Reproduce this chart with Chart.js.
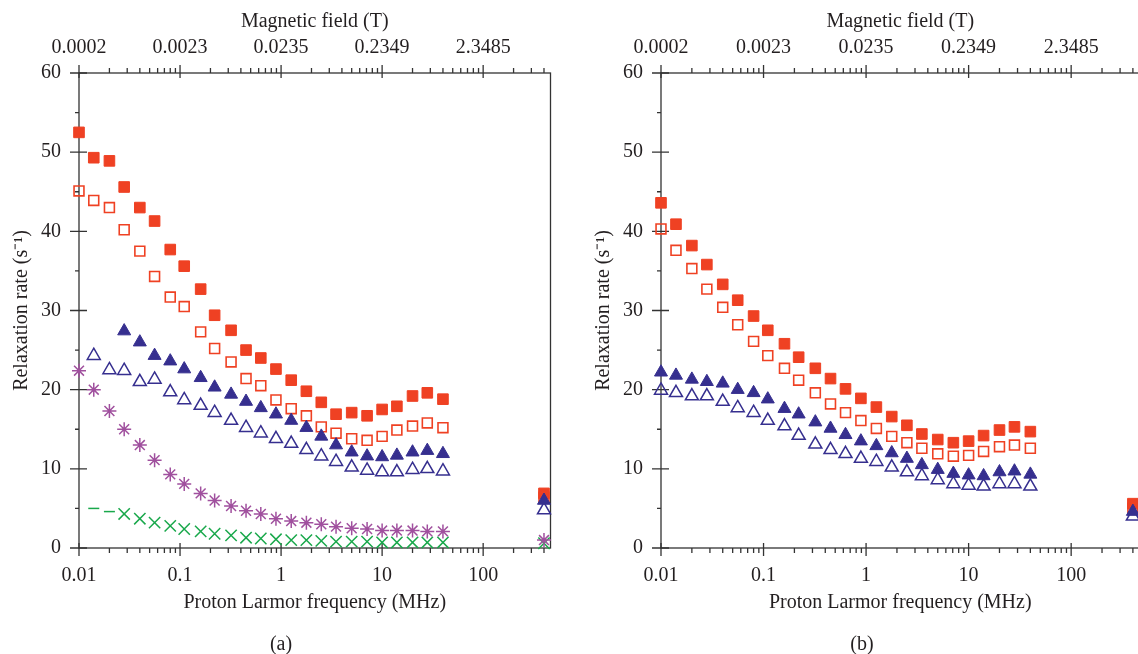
<!DOCTYPE html>
<html>
<head>
<meta charset="utf-8">
<script src="https://cdn.jsdelivr.net/npm/chart.js@4/dist/chart.umd.min.js"></script>
<style>
  html, body { margin: 0; padding: 0; background: #fff; width: 1138px; height: 654px; overflow: hidden; }
  .panel { position: absolute; top: 0; }
  .cap { position: absolute; font: 20px "Liberation Serif", serif; color: #231f20; transform: translateX(-50%); }
</style>
</head>
<body>
<div class="panel" style="left:0"><canvas id="chartA" width="560" height="654"></canvas></div>
<div class="panel" style="left:582px"><canvas id="chartB" width="570" height="654"></canvas></div>
<div class="cap" style="left:281px;top:632px">(a)</div>
<div class="cap" style="left:862px;top:632px">(b)</div>
<script>
// proton Larmor frequencies (MHz), last one is the 400 MHz point
const freq = [0.01, 0.014, 0.02, 0.028, 0.04, 0.056, 0.08, 0.11, 0.16, 0.22, 0.32, 0.45, 0.63,
  0.89, 1.26, 1.78, 2.5, 3.5, 5, 7.1, 10, 14, 20, 28, 40, 400];

const decadeTicks = [0.01, 0.1, 1, 10, 100];
const freqLabels = ['0.01', '0.1', '1', '10', '100'];
const fieldLabels = ['0.0002', '0.0023', '0.0235', '0.2349', '2.3485'];
const rateTicks = [0, 10, 20, 30, 40, 50, 60];

// panel (a)
const aFilledSq = [52.5, 49.3, 48.9, 45.6, 43.0, 41.3, 37.7, 35.6, 32.7, 29.4, 27.5, 25.0, 24.0,
  22.6, 21.2, 19.8, 18.4, 16.9, 17.1, 16.7, 17.5, 17.9, 19.2, 19.6, 18.8, 6.9];
const aOpenSq = [45.1, 43.9, 43.0, 40.2, 37.5, 34.3, 31.7, 30.5, 27.3, 25.2, 23.5, 21.4, 20.5,
  18.7, 17.6, 16.7, 15.3, 14.5, 13.8, 13.6, 14.1, 14.9, 15.4, 15.8, 15.2, 6.4];
const aFilledTri = [null, null, null, 27.4, 26.0, 24.3, 23.6, 22.6, 21.5, 20.3, 19.4, 18.5, 17.7,
  16.9, 16.1, 15.2, 14.1, 13.0, 12.1, 11.6, 11.5, 11.7, 12.1, 12.3, 11.9, 6.0];
const aOpenTri = [null, 24.3, 22.5, 22.4, 21.0, 21.3, 19.7, 18.7, 18.0, 17.1, 16.1, 15.2, 14.5,
  13.8, 13.2, 12.4, 11.6, 10.9, 10.2, 9.8, 9.6, 9.6, 9.9, 10.0, 9.7, 4.8];
const aStar = [22.4, 20.0, 17.3, 15.0, 13.0, 11.1, 9.3, 8.1, 6.9, 6.0, 5.3, 4.7, 4.3,
  3.7, 3.4, 3.2, 3.0, 2.7, 2.5, 2.4, 2.2, 2.2, 2.2, 2.1, 2.1, 1.0];
const aCross = [null, 5.0, 4.6, 4.3, 3.7, 3.2, 2.8, 2.4, 2.1, 1.8, 1.6, 1.3, 1.2,
  1.1, 1.0, 1.0, 0.9, 0.8, 0.8, 0.8, 0.7, 0.7, 0.7, 0.7, 0.7, 0.6];

// panel (b)
const bFilledSq = [43.6, 40.9, 38.2, 35.8, 33.3, 31.3, 29.3, 27.5, 25.8, 24.1, 22.7, 21.4, 20.1,
  18.9, 17.8, 16.6, 15.5, 14.4, 13.7, 13.3, 13.5, 14.2, 14.9, 15.3, 14.7, 5.6];
const bOpenSq = [40.3, 37.6, 35.3, 32.7, 30.4, 28.2, 26.1, 24.3, 22.7, 21.2, 19.6, 18.2, 17.1,
  16.1, 15.1, 14.1, 13.3, 12.6, 11.9, 11.6, 11.7, 12.2, 12.8, 13.0, 12.6, 5.0];
const bFilledTri = [22.2, 21.8, 21.3, 21.0, 20.8, 20.0, 19.6, 18.8, 17.6, 16.9, 15.9, 15.1, 14.3,
  13.5, 12.9, 12.0, 11.3, 10.5, 9.9, 9.4, 9.2, 9.1, 9.6, 9.7, 9.3, 4.6];
const bOpenTri = [19.9, 19.6, 19.2, 19.2, 18.5, 17.7, 17.1, 16.1, 15.4, 14.2, 13.1, 12.4, 11.9,
  11.3, 10.9, 10.2, 9.6, 9.1, 8.6, 8.1, 7.9, 7.8, 8.1, 8.1, 7.8, 4.0];

const RED = '#ef4123';
const BLUE = '#362f8f';
const PURPLE = '#a0509e';
const GREEN = '#19a84b';
const INK = '#231f20';
const xMin = 0.01, xMax = 464;

Chart.defaults.font.family = '"Liberation Serif", "Times New Roman", serif';
Chart.defaults.font.size = 20;
Chart.defaults.color = INK;

function pts(values) {
  return values.map((v, i) => ({ x: freq[i], y: v })).filter(p => p.y !== null);
}

function series(values, style, color, filled, radius, width) {
  return {
    data: pts(values),
    showLine: false,
    clip: false,
    pointStyle: style,
    pointRadius: radius,
    pointBorderWidth: width,
    pointBorderColor: color,
    pointBackgroundColor: filled ? color : 'rgba(0,0,0,0)',
  };
}

// axis frame with crossing major ticks and small minor ticks
const frame = {
  id: 'frame',
  beforeDatasetsDraw(chart) {
    const { ctx, chartArea: a, scales: { x, y } } = chart;
    ctx.save();
    ctx.strokeStyle = '#333';
    ctx.lineWidth = 1.3;
    ctx.strokeRect(a.left, a.top, a.right - a.left, a.bottom - a.top);
    ctx.beginPath();
    for (let e = -2; e <= 2; e++) {
      for (let m = 1; m <= 9; m++) {
        const v = m * Math.pow(10, e);
        if (v > xMax) continue;
        const px = x.getPixelForValue(v);
        const out = m === 1 ? 8 : 5;
        const inn = m === 1 ? 5 : 0;
        ctx.moveTo(px, a.bottom - inn); ctx.lineTo(px, a.bottom + out);
        ctx.moveTo(px, a.top + inn); ctx.lineTo(px, a.top - out);
      }
    }
    for (let v = 0; v <= 60; v += 5) {
      const py = y.getPixelForValue(v);
      const major = v % 10 === 0;
      ctx.moveTo(a.left - (major ? 9 : 4), py);
      ctx.lineTo(a.left + (major ? 8 : 0), py);
    }
    ctx.stroke();
    ctx.restore();
  }
};

function makeChart(id, datasets, padRight) {
  return new Chart(document.getElementById(id), {
    type: 'scatter',
    data: { datasets },
    options: {
      responsive: false,
      animation: false,
      devicePixelRatio: 1,
      layout: { padding: { left: 0, right: padRight, top: 0, bottom: 0 } },
      plugins: { legend: { display: false }, tooltip: { enabled: false } },
      scales: {
        x: {
          type: 'logarithmic',
          position: 'bottom',
          min: xMin,
          max: xMax,
          afterBuildTicks: s => { s.ticks = decadeTicks.map(v => ({ value: v })); },
          afterFit: s => { s.height = 106; },
          grid: { display: false, drawTicks: false },
          border: { display: false },
          ticks: { autoSkip: false, maxRotation: 0, padding: 16, callback: (v, i) => freqLabels[i] },
          title: { display: true, text: 'Proton Larmor frequency (MHz)', padding: { top: 0, bottom: 39 } }
        },
        x2: {
          type: 'logarithmic',
          position: 'top',
          min: xMin,
          max: xMax,
          afterBuildTicks: s => { s.ticks = decadeTicks.map(v => ({ value: v })); },
          afterFit: s => { s.height = 73; },
          grid: { display: false, drawTicks: false },
          border: { display: false },
          ticks: { autoSkip: false, maxRotation: 0, padding: 13, callback: (v, i) => fieldLabels[i] },
          title: { display: true, text: 'Magnetic field (T)', padding: { top: 10, bottom: 0 } }
        },
        y: {
          min: 0,
          max: 60,
          afterBuildTicks: s => { s.ticks = rateTicks.map(v => ({ value: v })); },
          afterFit: s => { s.width = 79; },
          grid: { display: false, drawTicks: false },
          border: { display: false },
          ticks: { padding: 18 },
          title: { display: true, text: 'Relaxation rate (s\u207B\u00B9)', padding: { top: 10, bottom: 0 } }
        }
      }
    },
    plugins: [frame]
  });
}

const greenCross = series(aCross, ctx => (ctx.raw && ctx.raw.x < 0.025 ? 'line' : 'crossRot'), GREEN, false,
  ctx => (ctx.raw && ctx.raw.x < 0.025 ? 5.5 : 8), 1.5);

makeChart('chartA', [
  series(aFilledTri, 'triangle', BLUE, true, 7.5, 1),
  series(aOpenTri, 'triangle', BLUE, false, 7.5, 1.5),
  series(aFilledSq, 'rect', RED, true, 7.5, 1),
  series(aOpenSq, 'rect', RED, false, 7, 1.6),
  series(aStar, 'star', PURPLE, false, 7, 1.5),
  greenCross
], 5);

makeChart('chartB', [
  series(bFilledTri, 'triangle', BLUE, true, 7.5, 1),
  series(bOpenTri, 'triangle', BLUE, false, 7.5, 1.5),
  series(bFilledSq, 'rect', RED, true, 7.5, 1),
  series(bOpenSq, 'rect', RED, false, 7, 1.6)
], 12.5);
</script>
</body>
</html>
